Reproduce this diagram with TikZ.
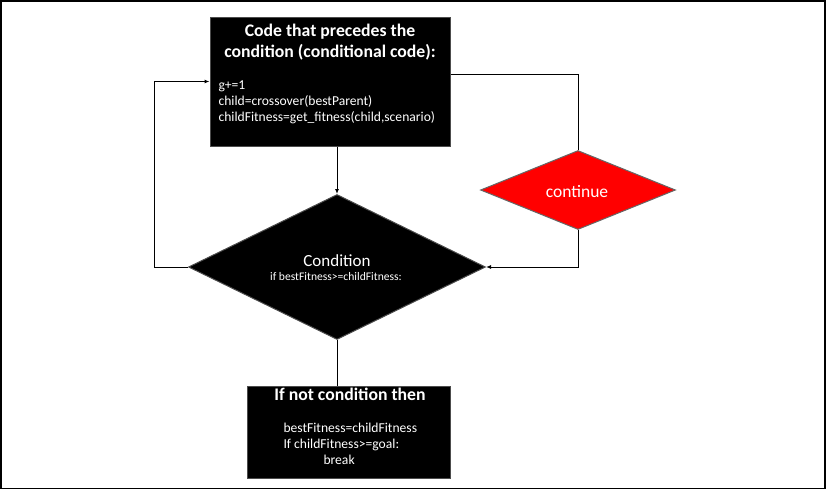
\documentclass[tikz,border=0pt]{standalone}
\usepackage{fontspec}
\setmainfont{Carlito}
\usetikzlibrary{shapes.geometric,arrows.meta,positioning}

\begin{document}
\begin{tikzpicture}[x=1pt,y=-1pt,
    blockbox/.style={draw=black!70, fill=black, inner sep=0pt},
    headtext/.style={text=white, font=\fontsize{17.7}{21}\selectfont\bfseries, align=center, inner sep=0pt},
    codetext/.style={text=white, font=\fontsize{13.6}{16}\selectfont, align=left, inner sep=0pt},
    arr/.style={-{Latex[length=5pt,width=4pt]}}]
    \useasboundingbox (0,0) rectangle (826,491);
    % Outer frame
    \draw[line width=1.5pt] (0.75,0.75) rectangle (825,488.5);

    \begin{scope}[line width=1pt]
        % Code before the condition
        \node[blockbox, minimum width=240pt, minimum height=129pt] (pre) at (330,81.5) {};
        \node[headtext, anchor=north] (preTitle) at (330,24) {Code that precedes the\\condition (conditional code):};
        \node[codetext, anchor=north west] (preCode) at (218,80) {g+=1\\child=crossover(bestParent)\\childFitness=get\_fitness(child,scenario)};

        % Condition
        \node[diamond, blockbox, minimum width=297pt, minimum height=145pt] (cond) at (337,267) {};
        \node[text=white, font=\fontsize{17}{20}\selectfont, inner sep=0pt, anchor=base] (condTitle) at (337,266) {Condition};
        \node[text=white, font=\fontsize{11.6}{14}\selectfont, inner sep=0pt, anchor=base] (condTest) at (336,280) {if bestFitness>=childFitness:};

        % Continue
        \node[diamond, draw=black!60, fill=red, inner sep=0pt, minimum width=195pt, minimum height=79pt] (cont) at (578,190) {};
        \node[text=white, font=\fontsize{17.5}{20}\selectfont, inner sep=0pt, anchor=base] (contText) at (577,197) {continue};

        % Result of the condition
        \node[blockbox, minimum width=203pt, minimum height=92pt] (res) at (348.5,432) {};
        \node[headtext, anchor=base] (resTitle) at (350,400) {If not condition then};
        \node[codetext, anchor=north west] (resCode) at (283,423) {bestFitness=childFitness\\If childFitness>=goal:\\\hspace{40pt}break};

        % Connectors
        \draw[arr] (pre.south -| cond.north) -- (cond.north);
        \draw[arr] (cond.west) -- ++(-34,0) |- (pre.west);
        \draw (cond.south) -- (cond.south |- res.north);
        \draw ([yshift=7.5pt]pre.east) -| (cont.north);
        \draw[arr] (cont.south) |- (cond.east);
    \end{scope}
\end{tikzpicture}
\end{document}
